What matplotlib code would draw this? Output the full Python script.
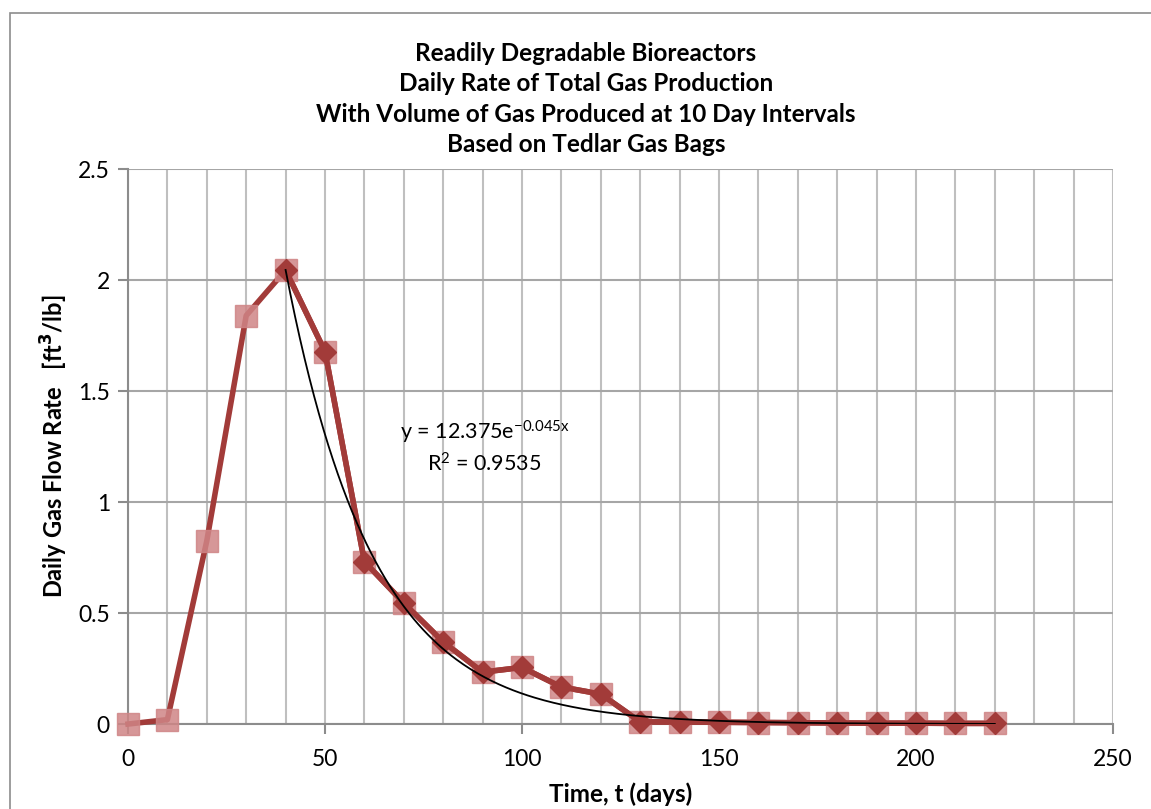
import matplotlib.pyplot as plt
from matplotlib.patches import Rectangle
import numpy as np

plt.rcParams['font.family'] = ['Lato', 'DejaVu Sans']

# Data
days = [0, 10, 20, 30, 40, 50, 60, 70, 80, 90, 100, 110, 120,
        130, 140, 150, 160, 170, 180, 190, 200, 210, 220]
rate = [0.0, 0.02, 0.825, 1.84, 2.045, 1.678, 0.732, 0.545, 0.37, 0.234, 0.255, 0.167, 0.135,
        0.01, 0.009, 0.008, 0.007, 0.006, 0.005, 0.004, 0.004, 0.003, 0.003]
decay_start = 4  # index of day 40, where the decay series begins

# Exponential trendline coefficients (as printed on the chart)
fit_a = 12.375
fit_b = -0.045

fig = plt.figure(figsize=(11.51, 8.09), dpi=100)
ax = fig.add_axes([0.1112, 0.105, 0.8558, 0.686])

# outer chart border
fig.patches.append(Rectangle((10 / 1151, -0.2), 1.5, 1.2 - 13 / 809,
                             transform=fig.transFigure, fill=False,
                             edgecolor='#8c8c8c', lw=1.2))

line_col = '#a23b39'
sq_col = '#cf8586'

ax.plot(days, rate, color=line_col, lw=4, zorder=3, clip_on=False)
ax.plot(days, rate, linestyle='none', marker='s', markersize=16,
        color=sq_col, alpha=0.85, zorder=4, clip_on=False)
ax.plot(days[decay_start:], rate[decay_start:], color=line_col, lw=4,
        marker='D', markersize=11, zorder=5, clip_on=False)

xfit = np.linspace(days[decay_start], days[-1], 300)
ax.plot(xfit, fit_a * np.exp(fit_b * xfit), color='black', lw=1.3, zorder=6)

ax.text(90.5, 1.315, 'y = 12.375e$\\mathregular{^{-0.045x}}$', ha='center', va='center', fontsize=15.5)
ax.text(90.5, 1.17, 'R$\\mathregular{^2}$ = 0.9535', ha='center', va='center', fontsize=15.5)

ax.set_xlim(0, 250)
ax.set_ylim(0, 2.5)
ax.set_xticks(np.arange(0, 251, 50))
ax.set_xticks(np.arange(0, 251, 10), minor=True)
ax.set_yticks(np.arange(0, 2.51, 0.5))
ax.set_yticklabels(['0', '0.5', '1', '1.5', '2', '2.5'])
ax.grid(True, which='minor', axis='x', color='#bfbfbf', lw=1.5)
ax.grid(True, which='major', axis='x', color='#bfbfbf', lw=1.5)
ax.grid(True, which='major', axis='y', color='#a6a6a6', lw=1.5)
ax.set_axisbelow(True)
ax.tick_params(axis='both', which='major', labelsize=16.5, length=7,
               width=1.5, color='#8c8c8c', direction='out', pad=6)
ax.tick_params(axis='x', which='major', pad=11)
ax.tick_params(axis='x', which='minor', length=0)
for side in ['top', 'right']:
    ax.spines[side].set_visible(False)
for side in ['left', 'bottom']:
    ax.spines[side].set_color('#8c8c8c')
    ax.spines[side].set_linewidth(1.5)

ax.set_xlabel('Time, t (days)', fontsize=17.5, fontweight='bold', labelpad=9)
ax.set_ylabel('Daily Gas Flow Rate   [ft$\\mathbf{^{3}}$/lb]', fontsize=17,
              fontweight='bold', labelpad=6)

fig.text(0.509, 0.8776, 'Readily Degradable Bioreactors\nDaily Rate of Total Gas Production\n'
         'With Volume of Gas Produced at 10 Day Intervals\nBased on Tedlar Gas Bags',
         ha='center', va='center', fontsize=17.5, fontweight='bold', linespacing=1.38)

fig.savefig('out.png', dpi=100)
